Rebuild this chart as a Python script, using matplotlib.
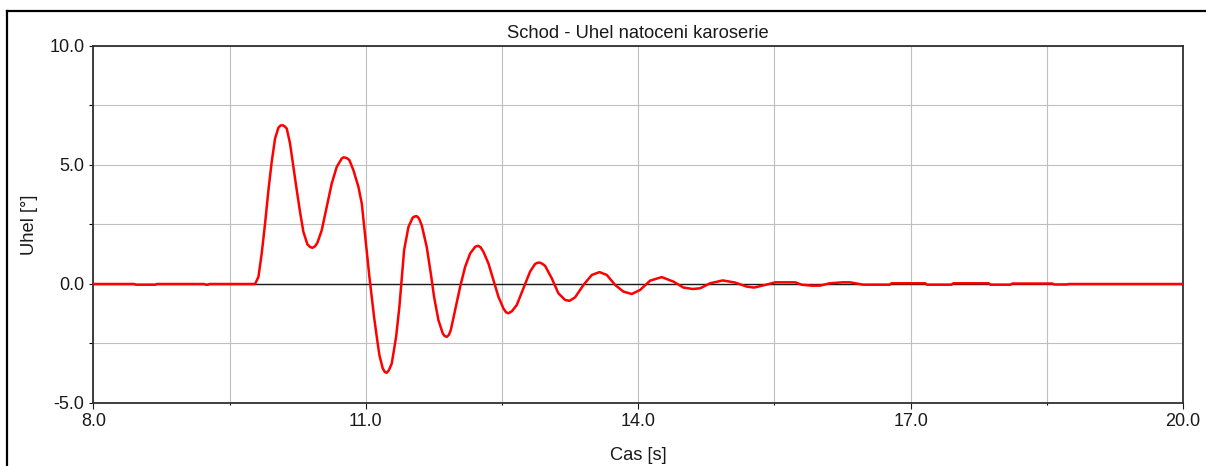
import matplotlib
matplotlib.use("Agg")
import matplotlib.pyplot as plt
from matplotlib.lines import Line2D
from matplotlib.ticker import FixedLocator

plt.rcParams["font.family"] = ["Liberation Sans", "DejaVu Sans"]

# time [s] and body roll angle [deg]
cas = [
    8.00, 8.45, 8.47, 8.68, 8.70, 9.22, 9.24, 9.26, 9.28, 9.781,
    9.818, 9.854, 9.891, 9.928, 9.964, 10.001, 10.038, 10.062, 10.086, 10.108,
    10.130, 10.166, 10.203, 10.240, 10.276, 10.313, 10.357, 10.385, 10.412, 10.440,
    10.467, 10.515, 10.570, 10.625, 10.680, 10.735, 10.754, 10.772, 10.796, 10.820,
    10.864, 10.919, 10.956, 10.981, 11.011, 11.040, 11.066, 11.091, 11.121, 11.150,
    11.187, 11.210, 11.231, 11.255, 11.286, 11.334, 11.370, 11.396, 11.422, 11.470,
    11.517, 11.540, 11.561, 11.585, 11.616, 11.671, 11.716, 11.752, 11.800, 11.848,
    11.870, 11.892, 11.915, 11.936, 11.984, 12.039, 12.094, 12.149, 12.204, 12.222,
    12.240, 12.265, 12.296, 12.351, 12.406, 12.461, 12.516, 12.545, 12.571, 12.610,
    12.663, 12.736, 12.809, 12.864, 12.890, 12.912, 12.940, 12.975, 13.048, 13.121,
    13.195, 13.243, 13.305, 13.397, 13.489, 13.573, 13.654, 13.746, 13.837, 13.929,
    14.021, 14.131, 14.259, 14.388, 14.498, 14.601, 14.682, 14.792, 14.931, 15.067,
    15.196, 15.276, 15.398, 15.51, 15.73, 15.80, 15.91, 16.00, 16.11, 16.25,
    16.33, 16.48, 16.77, 16.79, 17.16, 17.18, 17.45, 17.47, 17.86, 17.88,
    18.10, 18.12, 18.56, 18.58, 18.72, 18.74, 20.00,
]
uhel = [
    0.00, 0.00, -0.03, -0.03, 0.00, 0.00, -0.03, -0.03, 0.00, 0.00,
    0.30, 1.28, 2.54, 3.94, 5.13, 6.11, 6.57, 6.66, 6.67, 6.62,
    6.53, 5.90, 4.92, 3.94, 3.03, 2.19, 1.67, 1.56, 1.52, 1.58,
    1.73, 2.26, 3.24, 4.22, 4.92, 5.27, 5.32, 5.31, 5.28, 5.20,
    4.78, 4.08, 3.38, 2.47, 1.42, 0.30, -0.54, -1.38, -2.22, -2.99,
    -3.55, -3.70, -3.73, -3.62, -3.34, -2.22, -0.96, 0.25, 1.42, 2.40,
    2.79, 2.84, 2.85, 2.76, 2.47, 1.56, 0.44, -0.54, -1.52, -2.08,
    -2.19, -2.22, -2.14, -1.94, -1.10, -0.12, 0.72, 1.28, 1.56, 1.59,
    1.60, 1.54, 1.35, 0.86, 0.16, -0.54, -1.03, -1.19, -1.23, -1.14,
    -0.88, -0.18, 0.52, 0.84, 0.89, 0.90, 0.86, 0.76, 0.24, -0.39,
    -0.67, -0.71, -0.56, -0.04, 0.38, 0.50, 0.38, -0.04, -0.32, -0.42,
    -0.25, 0.14, 0.29, 0.10, -0.15, -0.21, -0.18, 0.03, 0.15, 0.06,
    -0.11, -0.15, -0.04, 0.07, 0.07, -0.03, -0.07, -0.07, 0.03, 0.07,
    0.07, -0.03, -0.03, 0.03, 0.03, -0.03, -0.03, 0.03, 0.03, -0.03,
    -0.03, 0.02, 0.02, -0.02, -0.02, 0.00, 0.00,
]

x_ticks = [8.0, 11.0, 14.0, 17.0, 20.0]
x_minor = [9.5, 12.5, 15.5, 18.5]
y_ticks = [-5.0, 0.0, 5.0, 10.0]
y_minor = [-2.5, 2.5, 7.5]

fig = plt.figure(figsize=(12.06, 4.66), dpi=100)
ax = fig.add_axes([0.0774, 0.1352, 0.9036, 0.7661])

ax.axhline(0, color="#1a1a1a", lw=1.0, zorder=2)
ax.plot(cas, uhel, color="#ff0000", lw=1.8, zorder=3,
        solid_joinstyle="round", solid_capstyle="round")

ax.set_xlim(8, 20)
ax.set_ylim(-5, 10)
ax.xaxis.set_major_locator(FixedLocator(x_ticks))
ax.xaxis.set_minor_locator(FixedLocator(x_minor))
ax.yaxis.set_major_locator(FixedLocator(y_ticks))
ax.yaxis.set_minor_locator(FixedLocator(y_minor))
ax.set_xticklabels([f"{v:.1f}" for v in x_ticks])
ax.set_yticklabels([f"{v:.1f}" for v in y_ticks])

ax.grid(True, which="both", color="#c0c0c0", lw=0.8, zorder=0)
ax.set_axisbelow(True)

ax.tick_params(axis="both", which="major", labelsize=13, colors="#1a1a1a",
               width=0.8, pad=3.5)
ax.tick_params(axis="x", which="major", length=4)
ax.tick_params(axis="x", which="minor", length=1.5, width=0.8)
ax.tick_params(axis="y", which="major", length=3)
ax.tick_params(axis="y", which="minor", length=3, width=0.8)

for s in ax.spines.values():
    s.set_color("#303030")
    s.set_linewidth(1.3)

ax.set_title("Schod - Uhel natoceni karoserie", fontsize=13.2, color="#1a1a1a", pad=6)
ax.set_xlabel("Cas [s]", fontsize=13.2, color="#1a1a1a", labelpad=12)
ax.set_ylabel("Uhel [°]", fontsize=13.2, color="#1a1a1a", labelpad=8)

# window frame around the chart
fx = 7 / 1206
fy = 1 - 11 / 466
fig.add_artist(Line2D([fx, fx], [0, fy], transform=fig.transFigure, color="black", lw=1.6))
fig.add_artist(Line2D([fx, 1], [fy, fy], transform=fig.transFigure, color="black", lw=1.6))

fig.savefig("out.png", dpi=100)
